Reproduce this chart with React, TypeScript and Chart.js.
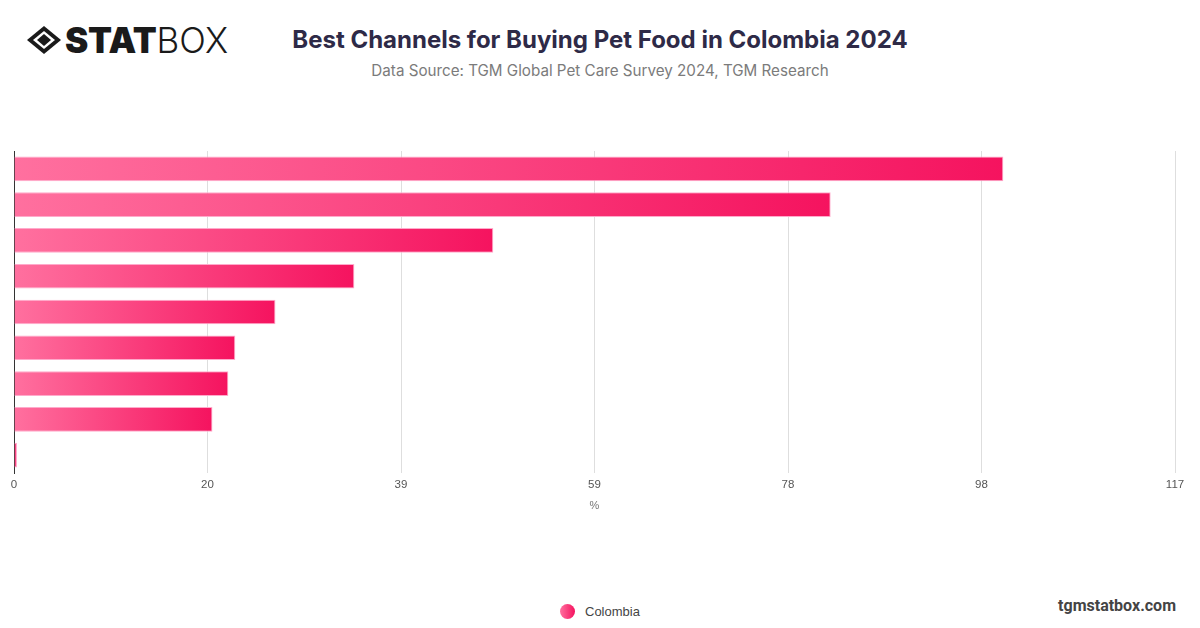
import React, { useEffect, useRef } from "react";
import { Chart, registerables } from "chart.js";

Chart.register(...registerables);

const categories = [
  "Pet stores",
  "Supermarkets",
  "Veterinary clinics",
  "Online marketplaces",
  "Pet store websites",
  "Hypermarkets",
  "Agricultural stores",
  "Convenience stores",
  "Other",
];
const colombiaValues = [99.7, 82.3, 48.3, 34.3, 26.35, 22.3, 21.6, 20.0, 0.3];
const seriesName = "Colombia";
const axisMax = 117;
const axisStep = 19.5;

const START = "#ff709f";
const END = "#f5135f";

export default function App() {
  const ref = useRef<HTMLCanvasElement | null>(null);

  useEffect(() => {
    if (!ref.current) return;
    const chart = new Chart(ref.current, {
      type: "bar",
      data: {
        labels: categories,
        datasets: [
          {
            label: seriesName,
            data: colombiaValues,
            backgroundColor: (c: any) => {
              const ch = c.chart;
              if (!ch.chartArea || c.type !== "data") return END;
              const xs = ch.scales.x;
              const x0 = xs.getPixelForValue(0);
              const x1 = xs.getPixelForValue(c.raw as number);
              if (x1 - x0 < 2) return "#fb4a85";
              const g = ch.ctx.createLinearGradient(x0, 0, x1, 0);
              g.addColorStop(0, START);
              g.addColorStop(1, END);
              return g;
            },
            borderColor: "#ffaacb",
            borderWidth: 1,
            barPercentage: 0.69,
            categoryPercentage: 1,
          },
        ],
      },
      options: {
        indexAxis: "y",
        animation: false,
        responsive: true,
        maintainAspectRatio: false,
        layout: { padding: { top: 11, left: 14, right: 25, bottom: 8 } },
        plugins: {
          legend: { display: false },
          title: { display: false },
          tooltip: { enabled: false },
        },
        scales: {
          x: {
            min: 0,
            max: axisMax,
            border: { display: false },
            grid: { color: "#dedede", lineWidth: 1, drawTicks: false },
            ticks: {
              stepSize: axisStep,
              padding: 5,
              color: "#555",
              font: { family: "Liberation Sans", size: 11.5 },
              callback: (v: any) => String(Math.round(Number(v))),
            },
            title: {
              display: true,
              text: "%",
              color: "#777",
              font: { family: "Liberation Sans", size: 11 },
              padding: { top: 3, bottom: 0 },
            },
          },
          y: {
            border: { display: true, color: "#333", width: 1 },
            grid: { color: "rgba(0,0,0,0)", drawTicks: false },
            ticks: { display: false },
          },
        },
      },
    });
    return () => chart.destroy();
  }, []);

  return (
    <div
      style={{
        position: "absolute",
        left: 0,
        top: 0,
        width: 1200,
        height: 628,
        background: "#fff",
        overflow: "hidden",
      }}
    >
      <div
        style={{
          position: "absolute",
          left: 26,
          top: 20,
          height: 40,
          display: "flex",
          alignItems: "center",
        }}
      >
        <svg width="36" height="30" viewBox="0 0 36 30">
          <polygon points="18,1 35,15 18,29 1,15" fill="#1a1a1a" />
          <polygon points="18,6 29,15 18,24 7,15" fill="#fff" />
          <polygon points="18,9 25,15 18,21 11,15" fill="#1a1a1a" />
        </svg>
        <span
          style={{
            fontFamily: "Inter",
            fontWeight: 900,
            fontSize: 35,
            color: "#1a1a1a",
            marginLeft: 3,
            letterSpacing: -0.3,
          }}
        >
          STAT
        </span>
        <span
          style={{
            fontFamily: "Inter",
            fontWeight: 300,
            fontSize: 35,
            color: "#1a1a1a",
            letterSpacing: 0,
          }}
        >
          BOX
        </span>
      </div>
      <div
        style={{
          position: "absolute",
          left: 0,
          width: 1200,
          top: 24,
          textAlign: "center",
          fontFamily: "Inter",
          fontWeight: 700,
          fontSize: 24,
          color: "#2e2a47",
          lineHeight: "32px",
        }}
      >
        Best Channels for Buying Pet Food in Colombia 2024
      </div>
      <div
        style={{
          position: "absolute",
          left: 0,
          width: 1200,
          top: 60,
          textAlign: "center",
          fontFamily: "Inter",
          fontWeight: 400,
          fontSize: 15.2,
          color: "#7b7b7b",
          lineHeight: "22px",
        }}
      >
        Data Source: TGM Global Pet Care Survey 2024, TGM Research
      </div>
      <div
        style={{
          position: "absolute",
          left: 0,
          top: 140,
          width: 1200,
          height: 381,
        }}
      >
        <canvas ref={ref} />
      </div>
      <div
        style={{
          position: "absolute",
          left: 560,
          top: 602,
          display: "flex",
          alignItems: "center",
          height: 18,
        }}
      >
        <span
          style={{
            display: "inline-block",
            width: 15,
            height: 15,
            borderRadius: "50%",
            background: `linear-gradient(90deg, ${START}, ${END})`,
          }}
        />
        <span
          style={{
            fontFamily: "Liberation Sans",
            fontSize: 13,
            color: "#444",
            marginLeft: 10,
          }}
        >
          {seriesName}
        </span>
      </div>
      <div
        style={{
          position: "absolute",
          right: 24,
          top: 595,
          fontFamily: "Roboto",
          fontWeight: 700,
          fontSize: 16,
          color: "#444",
          lineHeight: "22px",
        }}
      >
        tgmstatbox.com
      </div>
    </div>
  );
}
